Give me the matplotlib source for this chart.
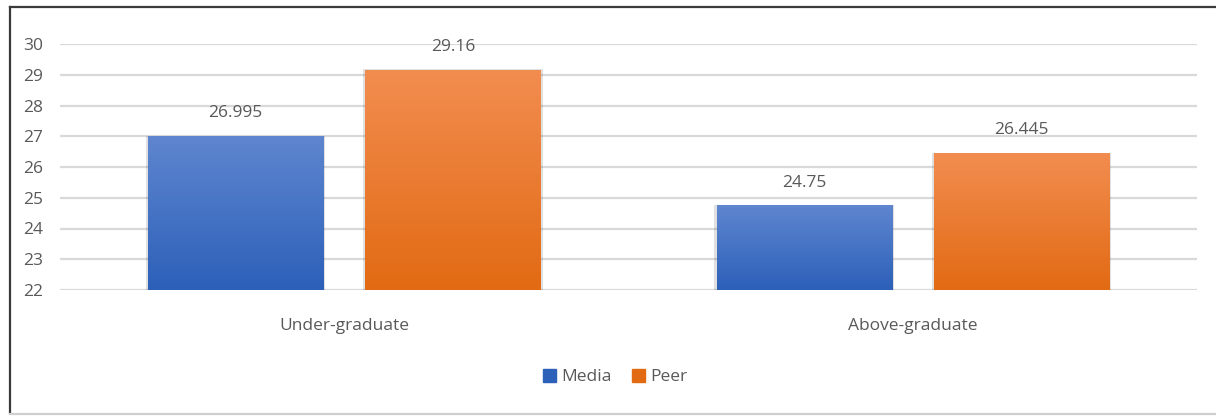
import numpy as np
import matplotlib
matplotlib.use("Agg")
import matplotlib.pyplot as plt
from matplotlib.colors import LinearSegmentedColormap
from matplotlib.patches import Rectangle
from matplotlib.lines import Line2D

categories = ["Under-graduate", "Above-graduate"]
series_names = ["Media", "Peer"]
media_values = [26.995, 24.75]
peer_values = [29.16, 26.445]
value_labels = [["26.995", "24.75"], ["29.16", "26.445"]]
y_ticks = [22, 23, 24, 25, 26, 27, 28, 29, 30]

plt.rcParams["font.family"] = ["Open Sans", "DejaVu Sans"]
text_color = "#595959"
grid_color = "#D9D9D9"
fs = 12.5

fig = plt.figure(figsize=(12.16, 4.16), dpi=100)
ax = fig.add_axes([60 / 1216, 1 - 290 / 416, 1137 / 1216, 246 / 416])

# gradient fills: (top colour, bottom colour)
grads = [("#5F86CF", "#2C60B9"), ("#F28D50", "#E26A13")]
solid = ["#4472C4", "#ED7D31"]

bar_w = 0.308
offset = 0.191
x = np.arange(len(categories))
ymin, ymax = 22, 30

for i, vals in enumerate([media_values, peer_values]):
    pos = x + (-offset if i == 0 else offset)
    cmap = LinearSegmentedColormap.from_list(f"g{i}", [grads[i][1], grads[i][0]])
    bars = ax.bar(pos, [v - ymin for v in vals], bottom=ymin, width=bar_w,
                  color=solid[i], zorder=3, label=series_names[i])
    for b, v, lab in zip(bars, vals, value_labels[i]):
        x0, w = b.get_x(), b.get_width()
        # soft shadow behind the bar
        ax.add_patch(Rectangle((x0 - 0.004, ymin), w + 0.008, v - ymin + 0.02,
                               facecolor="#000000", alpha=0.12, zorder=2.5,
                               linewidth=0))
        grad = np.linspace(0, 1, 256).reshape(-1, 1)
        im = ax.imshow(grad, cmap=cmap, aspect="auto", origin="lower",
                       extent=[x0, x0 + w, ymin, v], zorder=3.5)
        im.set_clip_path(b)
        ax.annotate(lab, (x0 + w / 2, v), xytext=(0, 16.5), textcoords="offset points",
                    ha="center", va="center", fontsize=fs, color=text_color)

ax.set_xlim(-0.5, 1.5)
ax.set_ylim(ymin, ymax)
ax.set_yticks(y_ticks)
ax.set_xticks(x)
ax.set_xticklabels(categories)
ax.tick_params(axis="both", length=0, labelsize=fs, colors=text_color)
ax.tick_params(axis="y", pad=12)
ax.tick_params(axis="x", pad=20)
ax.yaxis.grid(True, color=grid_color, linewidth=1.6, zorder=0)
ax.set_axisbelow(True)
for s in ax.spines.values():
    s.set_visible(False)

handles = [Rectangle((0, 0), 1, 1, color=grads[0][1]), Rectangle((0, 0), 1, 1, color=grads[1][1])]
fig.legend(handles, series_names, loc="center", bbox_to_anchor=(615 / 1216, 1 - 377 / 416),
           ncol=2, frameon=False, fontsize=fs, handlelength=0.75, handleheight=0.75,
           handletextpad=0.3, columnspacing=1.2, labelcolor=text_color)

# outer frame: dark left and top edges, light bottom edge, open to the right
W, H = 1216, 416
fig.add_artist(Line2D([9.5 / W, 9.5 / W], [1 - 413 / H, 1 - 6.5 / H],
                      transform=fig.transFigure, color="#3A3A3A", linewidth=1.6))
fig.add_artist(Line2D([9.5 / W, 1.0], [1 - 6.5 / H, 1 - 6.5 / H],
                      transform=fig.transFigure, color="#3A3A3A", linewidth=1.6))
fig.add_artist(Line2D([9.5 / W, 1.0], [1 - 413.5 / H, 1 - 413.5 / H],
                      transform=fig.transFigure, color="#CFCFCF", linewidth=1.6))

fig.savefig("out.png", dpi=100)
